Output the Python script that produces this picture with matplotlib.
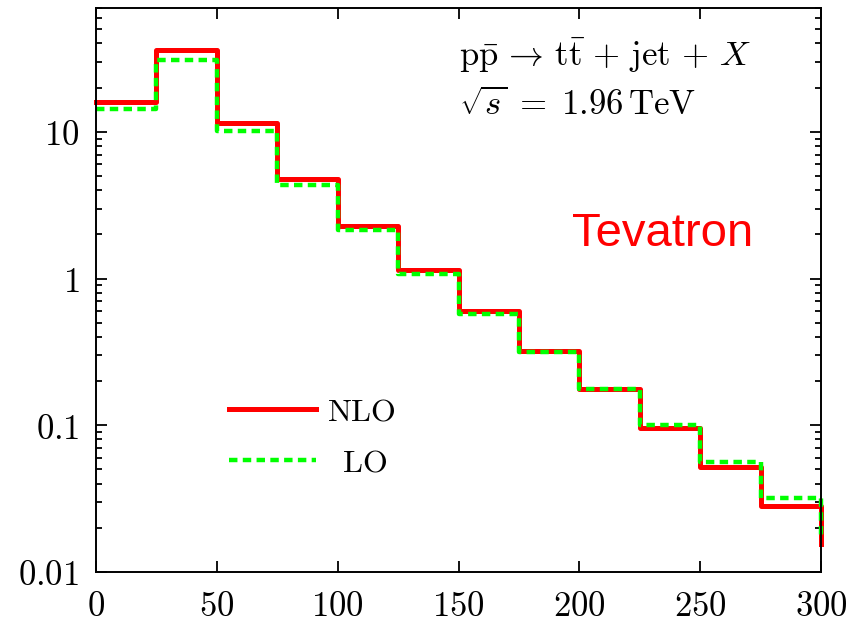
import numpy as np
import matplotlib
matplotlib.use("Agg")
import matplotlib.pyplot as plt
from matplotlib.ticker import FixedLocator, FuncFormatter, LogLocator, NullFormatter

plt.rcParams["mathtext.fontset"] = "cm"

# bin edges (GeV) and cross sections per bin
bin_edges = [0, 25, 50, 75, 100, 125, 150, 175, 200, 225, 250, 275, 300]
nlo_vals = [16.0, 36.2, 11.5, 4.79, 2.29, 1.146, 0.602, 0.321, 0.177, 0.096, 0.052, 0.0282]
lo_vals = [14.4, 31.0, 10.2, 4.35, 2.15, 1.08, 0.574, 0.316, 0.177, 0.1007, 0.0562, 0.032]
nlo_end = 0.0155
lo_end = 0.0170

x_ticks = [0, 50, 100, 150, 200, 250, 300]
y_ticks = [0.01, 0.1, 1, 10]
y_tick_labels = ["0.01", "0.1", "1", "10"]

def step_xy(edges, vals, end):
    x = list(edges) + [edges[-1]]
    y = list(vals) + [vals[-1], end]
    return x, y

fig = plt.figure(figsize=(8.48, 6.22), dpi=100)
ax = fig.add_axes([0.1132, 0.0804, 0.855, 0.907])

x, y = step_xy(bin_edges, nlo_vals, nlo_end)
ax.plot(x, y, drawstyle="steps-post", color="#ff0000", lw=3.6, clip_on=False)
x, y = step_xy(bin_edges, lo_vals, lo_end)
ax.plot(x, y, drawstyle="steps-post", color="#00ff00", lw=3.2,
        linestyle=(0, (1.9, 1.2)), clip_on=False)

ax.set_yscale("log")
ax.set_xlim(0, 300)
ax.set_ylim(0.01, 70)

ax.xaxis.set_major_locator(FixedLocator(x_ticks))
ax.xaxis.set_major_formatter(FuncFormatter(lambda v, p: r"$%d$" % v))
ax.yaxis.set_major_locator(FixedLocator(y_ticks))
ax.yaxis.set_major_formatter(FuncFormatter(
    lambda v, p: r"$%s$" % y_tick_labels[y_ticks.index(v)] if v in y_ticks else ""))
ax.yaxis.set_minor_locator(LogLocator(base=10, subs=np.arange(2, 10)))
ax.yaxis.set_minor_formatter(NullFormatter())

ax.tick_params(which="both", direction="in", top=True, right=True, width=1.3,
               labelsize=25, pad=12)
ax.tick_params(which="major", length=8)
ax.tick_params(which="minor", length=4)
for s in ax.spines.values():
    s.set_linewidth(1.4)

ax.text(0.50, 0.897,
        r"$\mathrm{p\bar{p}} \,\rightarrow\, \mathrm{t\bar{t}} \,+\, \mathrm{jet} \,+\, X$",
        transform=ax.transAxes, fontsize=25, va="baseline")
ax.text(0.50, 0.810, r"$\sqrt{s} \;=\; 1.96\,\mathrm{TeV}$",
        transform=ax.transAxes, fontsize=25, va="baseline")
ax.text(0.657, 0.577, "Tevatron", transform=ax.transAxes, fontsize=34,
        color="#ff0000", family="Liberation Sans", va="baseline")

leg = ax.legend(handles=ax.get_lines(),
                labels=[r"$\mathrm{NLO}$", r"$\;\;\mathrm{LO}$"],
                loc="upper left", bbox_to_anchor=(0.144, 0.362), frameon=False,
                fontsize=23, handlelength=2.72, labelspacing=0.62,
                handletextpad=0.35)

fig.savefig("out.png", dpi=100)
